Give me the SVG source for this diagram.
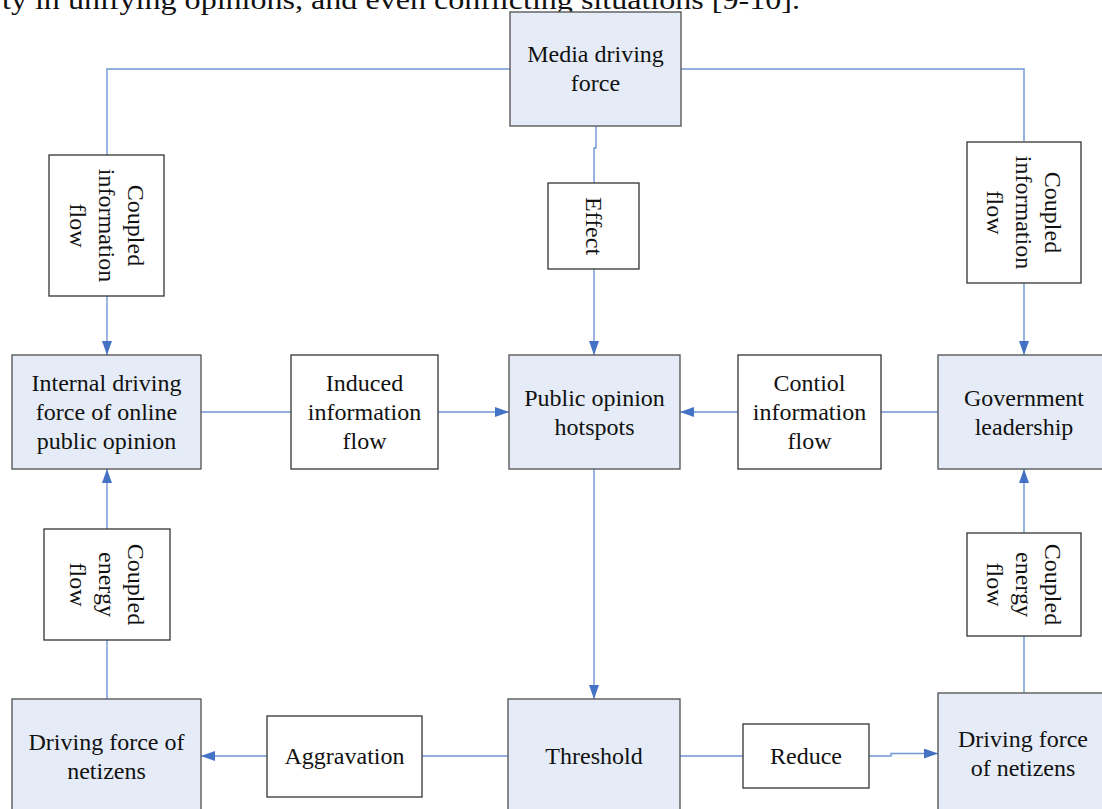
<svg xmlns="http://www.w3.org/2000/svg" width="1102" height="809" viewBox="0 0 1102 809">
<style>
text{font-family:"Liberation Serif","Times New Roman",serif;font-size:24px;fill:#111;text-anchor:middle}
.main{fill:#E6ECF7;stroke:#5a5a5a;stroke-width:1.4}
.lab{fill:#fff;stroke:#333;stroke-width:1.3}
.conn{fill:none;stroke:#6F95D4;stroke-width:1.4}
</style>
<defs>
<marker id="arr" viewBox="0 0 14 10" refX="14" refY="5" markerWidth="14" markerHeight="10" markerUnits="userSpaceOnUse" orient="auto">
<path d="M0,0 L14,5 L0,10 Z" fill="#4472C4"/>
</marker>
</defs>
<text x="2" y="9" style="text-anchor:start;font-size:28px" textLength="798" lengthAdjust="spacingAndGlyphs">ty in unifying opinions, and even conflicting situations [9-10].</text>
<g id="connectors">
<path class="conn" d="M510,69 H107 V155"/>
<path class="conn" d="M107,296 V355" marker-end="url(#arr)"/>
<path class="conn" d="M681,69 H1024 V141"/>
<path class="conn" d="M1024,283 V355" marker-end="url(#arr)"/>
<path class="conn" d="M596,126 V148 H594 V183"/>
<path class="conn" d="M594,269 V355" marker-end="url(#arr)"/>
<path class="conn" d="M201,412 H291"/>
<path class="conn" d="M438,412 H509" marker-end="url(#arr)"/>
<path class="conn" d="M938,412 H881"/>
<path class="conn" d="M738,412 H680" marker-end="url(#arr)"/>
<path class="conn" d="M107,699 V640"/>
<path class="conn" d="M107,529 V469" marker-end="url(#arr)"/>
<path class="conn" d="M1024,693 V636"/>
<path class="conn" d="M1024,533 V469" marker-end="url(#arr)"/>
<path class="conn" d="M594,469 V699" marker-end="url(#arr)"/>
<path class="conn" d="M508,756 H422"/>
<path class="conn" d="M267,756 H201" marker-end="url(#arr)"/>
<path class="conn" d="M680,756 H743"/>
<path class="conn" d="M869,756 H891 V753.5 H938" marker-end="url(#arr)"/>
</g>
<g id="media">
<rect class="main" x="510" y="12" width="171" height="114"/>
<text x="595.5" y="62">Media driving</text>
<text x="595.5" y="91">force</text>
</g>
<g id="coupled-info-left">
<rect class="lab" x="49" y="155" width="115" height="141"/>
<g transform="rotate(90 106.5 225.5)">
<text x="106.5" y="204.5">Coupled</text>
<text x="106.5" y="233.5">information</text>
<text x="106.5" y="262.5">flow</text>
</g>
</g>
<g id="effect">
<rect class="lab" x="548" y="183" width="91" height="86"/>
<g transform="rotate(90 594 226)">
<text x="594" y="234">Effect</text>
</g>
</g>
<g id="coupled-info-right">
<rect class="lab" x="967" y="142" width="114" height="141"/>
<g transform="rotate(90 1024 212.5)">
<text x="1024" y="191.5">Coupled</text>
<text x="1024" y="220.5">information</text>
<text x="1024" y="249.5">flow</text>
</g>
</g>
<g id="internal">
<rect class="main" x="12" y="355" width="189" height="114"/>
<text x="106.5" y="391">Internal driving</text>
<text x="106.5" y="420">force of online</text>
<text x="106.5" y="449">public opinion</text>
</g>
<g id="induced">
<rect class="lab" x="291" y="355" width="147" height="114"/>
<text x="364.5" y="391">Induced</text>
<text x="364.5" y="420">information</text>
<text x="364.5" y="449">flow</text>
</g>
<g id="hotspots">
<rect class="main" x="509" y="355" width="171" height="114"/>
<text x="594.5" y="406">Public opinion</text>
<text x="594.5" y="435">hotspots</text>
</g>
<g id="contiol">
<rect class="lab" x="738" y="355" width="143" height="114"/>
<text x="809.5" y="391">Contiol</text>
<text x="809.5" y="420">information</text>
<text x="809.5" y="449">flow</text>
</g>
<g id="government">
<rect class="main" x="938" y="355" width="172" height="114"/>
<text x="1024" y="406">Government</text>
<text x="1024" y="435">leadership</text>
</g>
<g id="coupled-energy-left">
<rect class="lab" x="44" y="529" width="126" height="111"/>
<g transform="rotate(90 107 584.5)">
<text x="107" y="563.5">Coupled</text>
<text x="107" y="592.5">energy</text>
<text x="107" y="621.5">flow</text>
</g>
</g>
<g id="coupled-energy-right">
<rect class="lab" x="967" y="533" width="114" height="103"/>
<g transform="rotate(90 1024 584.5)">
<text x="1024" y="563.5">Coupled</text>
<text x="1024" y="592.5">energy</text>
<text x="1024" y="621.5">flow</text>
</g>
</g>
<g id="netizens-left">
<rect class="main" x="12" y="699" width="189" height="120"/>
<text x="106.5" y="750">Driving force of</text>
<text x="106.5" y="779">netizens</text>
</g>
<g id="aggravation">
<rect class="lab" x="267" y="716" width="155" height="81"/>
<text x="344.5" y="764">Aggravation</text>
</g>
<g id="threshold">
<rect class="main" x="508" y="699" width="172" height="120"/>
<text x="594" y="764">Threshold</text>
</g>
<g id="reduce">
<rect class="lab" x="743" y="724" width="126" height="64"/>
<text x="806" y="764">Reduce</text>
</g>
<g id="netizens-right">
<rect class="main" x="938" y="693" width="172" height="126"/>
<text x="1023" y="747">Driving force</text>
<text x="1023" y="776">of netizens</text>
</g>
</svg>
